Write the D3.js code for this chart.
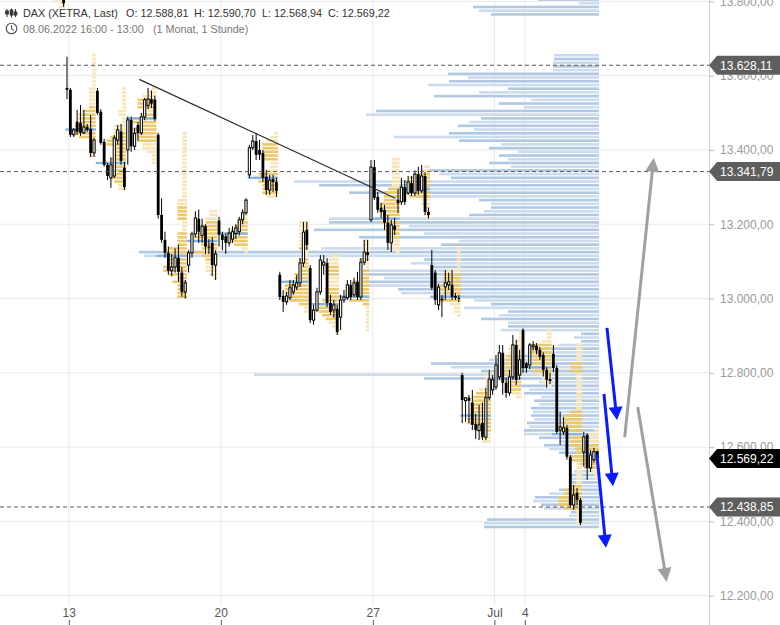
<!DOCTYPE html>
<html><head><meta charset="utf-8">
<script src="https://cdn.jsdelivr.net/npm/d3@7"></script>
<style>body{margin:0;background:#fff}svg{display:block;font-family:"Liberation Sans",Arial,sans-serif}</style>
</head><body><svg id="c" width="780" height="625"></svg>
<script>
// ---------- data ----------
const opens=[14420,14410,14445,14430,14400,14380,14350,14300,14200,14150,14190,14050,13980,13950,13900,13880,13860,13840,13830,13825,
13567,13562,13441,13476,13473,13446,13462,13457,13392,
13559,13503,13422,13360,13325,13330,13427,13450,13352,
13400,13481,13410,13467,13446,13489,13520,13537,13535,
13441,13225,13158,13123,13075,13085,13110,13070,13018,
13090,13123,13174,13215,13170,13195,13140,13150,13090,
13210,13172,13168,13150,13160,13175,13180,13212,13231,
13333,13406,13424,13400,13392,13328,13292,13322,13314,
13064,13007,12991,13002,13018,13031,13042,13096,13185,
13082,12942,12969,13018,13090,13096,12988,12969,12972,
12950,12996,13002,13037,13010,13045,13004,13098,13125,
13212,13354,13274,13244,13239,13204,13150,13196,13265,
13260,13300,13284,13311,13284,13335,13290,13330,13233,
13090,13070,12983,13000,13031,13037,13037,13007,13002,
12794,12725,12733,12720,12662,12645,12665,12627,12733,
12754,12762,12789,12854,12773,12746,12789,12875,12794,
12915,12826,12821,12870,12873,12862,12848,12808,12783,
12851,12813,12646,12641,12652,12574,12444,12477,12458,
12587,12633,12544,12566,12588.81];
const highs=[14440,14450,14470,14445,14420,14395,14370,14320,14230,14220,14230,14070,14010,13970,13930,13900,13890,13870,13850,13840,
13651,13567,13459,13508,13521,13508,13470,13494,13432,
13567,13510,13430,13365,13380,13440,13467,13470,13368,
13490,13490,13460,13475,13500,13540,13567,13560,13546,
13446,13270,13180,13140,13120,13135,13145,13085,13050,
13130,13180,13235,13240,13215,13200,13160,13165,13130,
13220,13180,13175,13190,13195,13200,13220,13240,13270,
13414,13440,13446,13427,13400,13346,13333,13333,13325,
13072,13023,13018,13050,13050,13064,13109,13206,13206,
13090,12983,13029,13117,13117,13109,13010,12996,12983,
13010,13023,13050,13050,13056,13072,13109,13158,13158,
13373,13373,13287,13257,13252,13225,13212,13217,13295,
13325,13319,13330,13330,13345,13355,13360,13340,13245,
13131,13077,13040,13010,13077,13070,13077,13015,13010,
12800,12735,12741,12754,12690,12714,12720,12760,12808,
12794,12848,12875,12875,12787,12808,12902,12889,12862,
12920,12830,12880,12885,12880,12870,12855,12815,12800,
12875,12821,12695,12681,12660,12579,12498,12490,12463,
12641,12638,12592,12598,12590.70];
const lows=[14400,14390,14420,14390,14370,14330,14280,14180,14120,14130,14170,13960,13930,13880,13860,13840,13830,13815,13805,13785,
13537,13435,13435,13441,13438,13443,13449,13381,13381,
13495,13414,13355,13319,13298,13325,13414,13360,13292,
13360,13395,13400,13425,13440,13480,13510,13513,13478,
13215,13150,13110,13065,13060,13070,13045,13005,13000,
13070,13110,13165,13150,13150,13120,13120,13060,13050,
13140,13130,13120,13140,13150,13160,13170,13200,13225,
13325,13400,13373,13373,13314,13279,13279,13287,13274,
12996,12964,12983,12996,13010,13023,13031,13085,13131,
12934,12929,12964,13010,13064,12977,12956,12948,12902,
12915,12988,12996,12996,13004,12996,12996,13090,13101,
13206,13265,13231,13217,13185,13131,13125,13171,13230,
13252,13252,13279,13276,13276,13279,13284,13225,13215,
13023,12983,12969,12950,12996,13023,12996,12996,12990,
12665,12668,12665,12646,12622,12619,12619,12619,12727,
12741,12754,12781,12741,12733,12738,12781,12767,12781,
12800,12800,12810,12860,12850,12835,12790,12760,12770,
12802,12636,12606,12633,12566,12436,12431,12444,12390,
12547,12512,12533,12558,12568.94];
const closes=[14410,14445,14430,14400,14380,14350,14300,14200,14150,14190,14198,13980,13950,13900,13880,13860,13840,13830,13820,13795,
13562,13441,13454,13449,13446,13462,13454,13392,13427,
13500,13419,13360,13330,13360,13432,13454,13370,13300,
13481,13410,13445,13446,13489,13535,13537,13525,13484,
13225,13158,13123,13075,13085,13110,13072,13018,13042,
13123,13174,13217,13180,13195,13140,13138,13090,13120,
13172,13158,13150,13176,13180,13190,13212,13231,13265,
13406,13424,13387,13387,13325,13292,13319,13314,13290,
13004,12991,13007,13029,13037,13042,13096,13179,13144,
12942,12969,13018,13104,13098,12988,12964,12983,12910,
12996,13004,13037,13004,13042,13004,13098,13125,13117,
13354,13271,13239,13233,13204,13150,13198,13185,13257,
13300,13260,13314,13284,13335,13290,13330,13233,13225,
13029,12996,13031,12995,13042,13045,13004,13002,13000,
12727,12733,12725,12660,12646,12660,12627,12733,12783,
12781,12821,12854,12773,12746,12789,12875,12781,12835,
12813,12813,12875,12875,12860,12843,12808,12781,12778,
12813,12641,12654,12652,12574,12444,12471,12458,12396,
12628,12544,12579,12588,12569.22];

// first candle index of every trading day (08.06. 16:00 ... 06.07. 13:00)
const dayStarts=[0,2,11,20,29,38,47,56,65,74,83,92,101,110,119,128,137,146,155,164,173];
const xTickIdx=[20,65,110,146,155];
const xTickLabels=["13","20","27","Jul","4"];
const yTicks=[12200,12400,12600,12800,13000,13200,13400,13600,13800];
const levelLines=[13628.11,13341.79,12438.85];
const lastPrice=12569.22;

// overall volume profile, 10-point rows starting at 12380
const profileStart=12380;
const profileVolumes=[115,115,112,30,28,55,58,66,64,50,40,22,30,28,28,25,15,15,18,25,
40,50,55,40,60,75,75,70,72,65,68,66,68,60,65,58,75,70,80,60,
175,345,118,148,168,110,90,71,55,41,18,25,18,98,91,91,118,100,91,135,
108,125,148,198,201,231,235,215,230,235,168,188,175,455,460,278,158,140,240,175,
285,190,270,270,130,115,108,108,120,180,250,200,280,305,148,160,171,88,110,91,
100,81,110,98,140,205,150,125,141,130,118,233,223,75,100,68,165,120,91,171,
150,131,151,46,46,46,45,45,0,0,0,0,0,0,0,0,0,0,108,120,126,20,61];

const trendline=[[41.4,13590],[117.2,13270]];
const blueArrows=[[[179.86,12921],[182.82,12673]],[[178.97,12743],[181.64,12495]],[[176.9,12579],[179.56,12329]]];
const grayArrows=[[[185.11,12627],[193.7,13379]],[[188.96,12708],[197.55,12237]]];

// ---------- scales ----------
const svg=d3.select("#c");
const x=d3.scaleLinear().domain([20,155]).range([67,523]);
const y=d3.scaleLinear().domain([12200,13800]).range([595.7,1.4]);
const slot=x(21)-x(20);
const AX=709, PB=606;
const loc=d3.formatLocale({decimal:",",thousands:".",grouping:[3],currency:["","€"]});
const fmt=loc.format(",.2f");

svg.append("defs").append("clipPath").attr("id","pc").append("rect").attr("x",0).attr("y",0).attr("width",AX).attr("height",PB);

// grid
const grid=svg.append("g");
grid.selectAll("line.h").data(yTicks).join("line").attr("x1",0).attr("x2",AX).attr("y1",d=>y(d)).attr("y2",d=>y(d)).attr("stroke","#e9e9e9");
grid.selectAll("line.v").data(xTickIdx).join("line").attr("x1",d=>x(d)+1.8).attr("x2",d=>x(d)+1.8).attr("y1",0).attr("y2",PB).attr("stroke","#e9e9e9");

const plot=svg.append("g").attr("clip-path","url(#pc)");

// overall volume profile (anchored at right end of data)
const pr=x(opens.length-1)+slot/2;
const vx=d3.scaleLinear().domain([0,500]).range([0,500]);
plot.append("g").selectAll("rect").data(profileVolumes.map((v,k)=>({p:profileStart+10*k,v,k}))).join("rect")
  .attr("x",d=>pr-vx(d.v)).attr("width",d=>vx(d.v))
  .attr("y",d=>y(d.p+5)-1.3).attr("height",2.6)
  .attr("fill",d=>d.k%2?"#ccdcef":"#b1c8e3");

// daily profiles derived from candle ranges
const days=dayStarts.map((s,k)=>({s,e:(k<dayStarts.length-1?dayStarts[k+1]:opens.length)-1}));
const dp=plot.append("g");
days.forEach(d=>{
  const idx=d3.range(d.s,d.e+1);
  const lo=Math.floor(d3.min(idx,i=>lows[i])/10)*10, hi=Math.ceil(d3.max(idx,i=>highs[i])/10)*10;
  const bins=d3.range(lo,hi,10).map(b=>({b,n:idx.filter(i=>lows[i]<b+10&&highs[i]>b).length}));
  const mx=d3.max(bins,b=>b.n), tot=d3.sum(bins,b=>b.n);
  const mid=d3.mean(idx,i=>closes[i]);
  const poc=bins.filter(b=>b.n===mx).sort((a,b)=>Math.abs(a.b-mid)-Math.abs(b.b-mid))[0];
  const sorted=bins.slice().sort((a,b)=>b.n-a.n||Math.abs(a.b-poc.b)-Math.abs(b.b-poc.b));
  let acc=0; sorted.forEach(b=>{b.va=acc<0.7*tot; acc+=b.n;});
  const xr=x(d.e)+slot/2, xl=x(d.s)-slot/2, wmax=0.78*9*slot;
  dp.append("g").selectAll("rect").data(bins.filter(b=>b.n>0)).join("rect")
    .attr("x",b=>xr-b.n/mx*wmax).attr("width",b=>b.n/mx*wmax)
    .attr("y",b=>y(b.b+5)-1.3).attr("height",2.6)
    .attr("fill",b=>b.va?"#ebc86a":"#f6e5b6");
  dp.append("rect").attr("x",xl).attr("width",xr-xl).attr("y",y(poc.b+5)-1.1).attr("height",2.2).attr("fill","#80b5ec");
});

// candles
const cd=opens.map((o,i)=>({i,o,h:highs[i],l:lows[i],c:closes[i]}));
const cg=plot.append("g");
cg.selectAll("line").data(cd).join("line").attr("x1",d=>x(d.i)).attr("x2",d=>x(d.i)).attr("y1",d=>y(d.h)).attr("y2",d=>y(d.l)).attr("stroke","#000").attr("stroke-width",1);
cg.selectAll("rect").data(cd).join("rect")
  .attr("x",d=>d.c>=d.o?x(d.i)-1.1:x(d.i)-1.4)
  .attr("width",d=>d.c>=d.o?2.2:2.8)
  .attr("y",d=>y(Math.max(d.o,d.c)))
  .attr("height",d=>Math.max(1,Math.abs(y(d.o)-y(d.c))))
  .attr("fill",d=>d.c>=d.o?"#fff":"#000")
  .attr("stroke",d=>d.c>=d.o?"#000":"none").attr("stroke-width",1);

// trendline
plot.append("line").attr("x1",x(trendline[0][0])).attr("y1",y(trendline[0][1])).attr("x2",x(trendline[1][0])).attr("y2",y(trendline[1][1])).attr("stroke","#2a2a2a").attr("stroke-width",1.2);

// level lines
svg.append("g").selectAll("line").data(levelLines).join("line").attr("x1",0).attr("x2",AX).attr("y1",d=>y(d)).attr("y2",d=>y(d))
  .attr("stroke","#555").attr("stroke-dasharray","4,3").attr("stroke-width",1);

// arrows
function arrow(g,a,color,hl,hw,sw){
  const x0=x(a[0][0]),y0=y(a[0][1]),x1=x(a[1][0]),y1=y(a[1][1]);
  const L=Math.hypot(x1-x0,y1-y0),ux=(x1-x0)/L,uy=(y1-y0)/L,bx=x1-ux*hl,by=y1-uy*hl;
  g.append("line").attr("x1",x0).attr("y1",y0).attr("x2",bx+ux).attr("y2",by+uy).attr("stroke",color).attr("stroke-width",sw);
  g.append("path").attr("d",`M${x1},${y1}L${bx-uy*hw},${by+ux*hw}L${bx+uy*hw},${by-ux*hw}Z`).attr("fill",color);
}
const ag=svg.append("g");
grayArrows.forEach(a=>arrow(ag,a,"#a0a0a0",14,7,3));
blueArrows.forEach(a=>arrow(ag,a,"#0a1cff",13,7,3));

// right axis
svg.append("line").attr("x1",AX+0.5).attr("x2",AX+0.5).attr("y1",0).attr("y2",625).attr("stroke","#d6d6d6");
const ya=svg.append("g").attr("transform",`translate(${AX},0)`).call(d3.axisRight(y).tickValues(yTicks).tickFormat(fmt).tickSize(5).tickPadding(6));
ya.select(".domain").remove();
ya.selectAll("line").attr("stroke","#bbb");
ya.selectAll("text").attr("fill","#9a9a9a").attr("font-size",12).attr("font-family","'Liberation Sans',Arial,sans-serif");

// bottom axis
const xa=svg.append("g").attr("transform","translate(0,620)").call(d3.axisTop(x).tickValues(xTickIdx.map(i=>i+0.53)).tickFormat((d,k)=>xTickLabels[k]).tickSizeInner(-5).tickSizeOuter(0).tickPadding(3));
xa.select(".domain").remove();
xa.selectAll("line").attr("stroke","#555");
xa.selectAll("text").attr("fill","#555").attr("font-size",12).attr("font-family","'Liberation Sans',Arial,sans-serif");

// badges
const badges=levelLines.map(v=>({v,col:"#5e5e5e"})).concat([{v:lastPrice,col:"#000"}]);
const bg=svg.append("g");
badges.forEach(b=>{
  const cy=y(b.v);
  bg.append("path").attr("d",`M${AX},${cy}L${AX+8},${cy-9.5}L780,${cy-9.5}L780,${cy+9.5}L${AX+8},${cy+9.5}Z`).attr("fill",b.col);
  bg.append("text").attr("x",AX+11).attr("y",cy+4.5).attr("fill","#fff").attr("font-size",12).text(fmt(b.v));
});

// header
const hd=svg.append("g");
const ic=hd.append("g").attr("stroke","#333").attr("stroke-width",1).attr("fill","none");
[[7,9,17,11,14],[11.5,8.5,17.5,10,15],[15.5,9,17,12,15]].forEach(c=>{
  ic.append("line").attr("x1",c[0]).attr("x2",c[0]).attr("y1",c[1]).attr("y2",c[2]);
  ic.append("rect").attr("x",c[0]-1.3).attr("y",c[3]).attr("width",2.6).attr("height",c[4]-c[3]).attr("fill","#333");
});
hd.append("circle").attr("cx",11.5).attr("cy",28.5).attr("r",5.3).attr("fill","none").attr("stroke","#555").attr("stroke-width",1.1);
hd.append("path").attr("d","M11.5,25.3V28.7L13.8,30.4").attr("fill","none").attr("stroke","#555").attr("stroke-width",1.1);
const t1=[["DAX (XETRA, Last)",23],["O: 12.588,81",126],["H: 12.590,70",194],["L: 12.568,94",262],["C: 12.569,22",328]];
t1.forEach(t=>hd.append("text").attr("x",t[1]).attr("y",17).attr("font-size",10.8).attr("fill","#333").text(t[0]));
hd.append("text").attr("x",23).attr("y",33).attr("font-size",10.8).attr("fill","#777").text("08.06.2022 16:00 - 13:00");
hd.append("text").attr("x",153).attr("y",33).attr("font-size",10.8).attr("fill","#777").text("(1 Monat, 1 Stunde)");
</script></body></html>
